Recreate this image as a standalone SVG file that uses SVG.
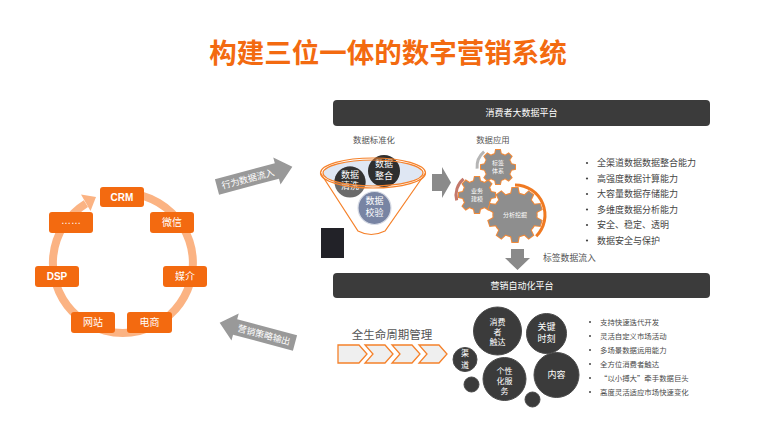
<svg xmlns="http://www.w3.org/2000/svg" xmlns:xlink="http://www.w3.org/1999/xlink" width="780" height="434" viewBox="0 0 780 434">
<style>
  text { font-family: "Noto Sans CJK SC", "Liberation Sans", sans-serif; }
  .lat { font-family: "Liberation Sans", "Noto Sans CJK SC", sans-serif; }
  .box { fill: #f36a10; }
  .boxt { fill: #ffffff; font-size: 10px; text-anchor: middle; }
  .bar { fill: #3b3b3b; }
  .bart { fill: #ffffff; font-size: 9px; text-anchor: middle; }
  .lbl { fill: #555555; font-size: 8.4px; text-anchor: middle; }
  .li1 { fill: #444444; font-size: 9px; }
  .li2 { fill: #4a4a4a; font-size: 7.4px; }
  .dot { fill: #444444; }
  .ct { fill: #ffffff; font-size: 9px; text-anchor: middle; }
  .ct8 { fill: #ffffff; font-size: 8px; text-anchor: middle; }
  .gt { fill: #ffffff; font-size: 6px; text-anchor: middle; }
  .arr { fill: #999999; }
  .arrt { fill: #ffffff; font-size: 9px; text-anchor: middle; }
  .dk { fill: #3b3b3b; stroke: #4a4a4a; stroke-width: 1; }
  .chev { fill: #efefef; stroke: #f5812a; stroke-width: 1.3; }
</style>
<defs>
  <polygon id="tooth8" points="-0.18,-0.72 0.18,-0.72 0.12,-1 -0.12,-1"/>
  <polygon id="tooth10" points="-0.15,-0.74 0.15,-0.74 0.1,-1 -0.1,-1"/>
  <g id="g8">
    <circle r="0.78"/>
    <use href="#tooth8"/><use href="#tooth8" transform="rotate(45)"/><use href="#tooth8" transform="rotate(90)"/><use href="#tooth8" transform="rotate(135)"/>
    <use href="#tooth8" transform="rotate(180)"/><use href="#tooth8" transform="rotate(225)"/><use href="#tooth8" transform="rotate(270)"/><use href="#tooth8" transform="rotate(315)"/>
  </g>
  <g id="g10">
    <circle r="0.8"/>
    <use href="#tooth10"/><use href="#tooth10" transform="rotate(36)"/><use href="#tooth10" transform="rotate(72)"/><use href="#tooth10" transform="rotate(108)"/><use href="#tooth10" transform="rotate(144)"/>
    <use href="#tooth10" transform="rotate(180)"/><use href="#tooth10" transform="rotate(216)"/><use href="#tooth10" transform="rotate(252)"/><use href="#tooth10" transform="rotate(288)"/><use href="#tooth10" transform="rotate(324)"/>
  </g>
  <clipPath id="ellClip"><ellipse cx="373" cy="173" rx="50" ry="13"/></clipPath>
</defs>
<rect width="780" height="434" fill="#ffffff"/>

<text x="388" y="63" text-anchor="middle" font-size="27.5" font-weight="bold" fill="#f36a10">构建三位一体的数字营销系统</text>

<!-- Left cycle ring -->
<g id="cycle">
  <path d="M129.1,193.3 A70,70 0 1 1 85.9,203.6" fill="none" stroke="#fbb383" stroke-width="8"/>
  <polygon points="96,197 81,194.5 90.5,211" fill="#fbb383"/>
</g>
<g id="node-crm"><rect class="box" x="100" y="187" width="44" height="20" rx="3"/><text class="boxt lat" x="122" y="201" font-weight="bold" font-size="9.5">CRM</text></g>
<g id="node-weixin"><rect class="box" x="150" y="212" width="44" height="21" rx="3"/><text class="boxt" x="172" y="226">微信</text></g>
<g id="node-meijie"><rect class="box" x="163" y="266" width="44" height="21" rx="3"/><text class="boxt" x="185" y="280">媒介</text></g>
<g id="node-dianshang"><rect class="box" x="127" y="312" width="45" height="21" rx="3"/><text class="boxt" x="149.5" y="326">电商</text></g>
<g id="node-wangzhan"><rect class="box" x="71" y="312" width="44" height="21" rx="3"/><text class="boxt" x="93" y="326">网站</text></g>
<g id="node-dsp"><rect class="box" x="35" y="266" width="44" height="21" rx="3"/><text class="boxt lat" x="57" y="280" font-weight="bold" font-size="9.5">DSP</text></g>
<g id="node-more"><rect class="box" x="49" y="212" width="44" height="21" rx="3"/><text class="boxt lat" x="71" y="224" font-size="8">……</text></g>

<!-- Connectors -->
<g id="connectors">
  <g transform="translate(217 187) rotate(-15)">
    <path class="arr" d="M0,-8 L62,-8 L62,-14 L78,0 L62,14 L62,8 L0,8 Z"/>
    <text class="arrt" x="32" y="3.5">行为数据流入</text>
  </g>
  <g transform="translate(295 343) rotate(15)">
    <path class="arr" d="M0,-8 L-62,-8 L-62,-14 L-78,0 L-62,14 L-62,8 L0,8 Z"/>
    <text class="arrt" x="-32" y="3.5">营销策略输出</text>
  </g>
  <polygon fill="#8a8a8a" points="432,174 442,174 442,167 451,182.5 442,198 442,191 432,191"/>
  <polygon fill="#8a8a8a" points="511,249 524,249 524,258 530,258 517.5,270 505,258 511,258"/>
  <text x="543" y="261" font-size="8.8" fill="#555555">标签数据流入</text>
</g>

<!-- Top platform -->
<g id="bar-top"><rect class="bar" x="333" y="100" width="377" height="26" rx="4"/><text class="bart" x="521.5" y="116">消费者大数据平台</text></g>
<text class="lbl" x="374" y="143">数据标准化</text>
<text class="lbl" x="493" y="143">数据应用</text>

<!-- Funnel -->
<g id="funnel">
  <ellipse cx="373" cy="173" rx="50" ry="13" fill="#dfe7f3"/>
  <g id="node-qingxi">
    <circle cx="350" cy="182" r="15.5" fill="#6b6b6b"/>
    <circle cx="350" cy="182" r="15.5" fill="#333333" clip-path="url(#ellClip)"/>
    <text class="ct" x="350" y="177.5">数据</text>
    <text class="ct" x="350" y="189">清洗</text>
  </g>
  <g id="node-zhenghe">
    <circle cx="384" cy="171" r="16" fill="#2f2f2f"/>
    <text class="ct" x="384" y="167">数据</text>
    <text class="ct" x="384" y="178.5">整合</text>
  </g>
  <g id="node-jiaoyan">
    <circle cx="374.5" cy="208" r="16.5" fill="#7884a3" stroke="#d8dce6" stroke-width="1.2"/>
    <text class="ct" x="374.5" y="204">数据</text>
    <text class="ct" x="374.5" y="215.5">校验</text>
  </g>
  <ellipse cx="373" cy="173" rx="50" ry="13" fill="none" stroke="#f5812a" stroke-width="1.2"/>
  <ellipse cx="373" cy="173" rx="52.5" ry="15" fill="none" stroke="#f5812a" stroke-width="1.2"/>
  <path d="M320.5,173 L358,231 Q371,238 385,231 L425.5,173" fill="none" stroke="#f5812a" stroke-width="1.2"/>
</g>
<rect x="321" y="228" width="23" height="30" fill="#222228"/>

<!-- Gears -->
<g id="gears">
  <path d="M484.1,151.7 A20,20 0 0 0 477.1,168.7" fill="none" stroke="#b5b5b5" stroke-width="3"/>
  <path d="M463.5,178.9 A21,21 0 0 0 456.7,200.4" fill="none" stroke="#c4786a" stroke-width="3"/>
  <path d="M515,185 A30,30 0 0 1 536.2,236.2" fill="none" stroke="#f07a22" stroke-width="3"/>
  <g id="node-biaoqian">
    <use href="#g8" transform="translate(498 167) scale(17)" fill="#8e8e8e" stroke="#f08a3a" stroke-width="0.12"/>
    <use href="#g8" transform="translate(498 167) scale(17)" fill="#8e8e8e"/>
    <text class="gt" x="498" y="165">标签</text>
    <text class="gt" x="498" y="172.5">体系</text>
  </g>
  <g id="node-yewu">
    <use href="#g8" transform="translate(477 195) scale(18)" fill="#8e8e8e" stroke="#f08a3a" stroke-width="0.12"/>
    <use href="#g8" transform="translate(477 195) scale(18)" fill="#8e8e8e"/>
    <text class="gt" x="477" y="193">业务</text>
    <text class="gt" x="477" y="200.5">建模</text>
  </g>
  <g id="node-fenxi">
    <use href="#g10" transform="translate(515 215) scale(27)" fill="#8e8e8e" stroke="#f08a3a" stroke-width="0.08"/>
    <use href="#g10" transform="translate(515 215) scale(27)" fill="#8e8e8e"/>
    <text class="gt" x="515" y="217">分析挖掘</text>
  </g>
</g>

<!-- Top list -->
<g id="list-top">
  <circle class="dot" cx="587" cy="163" r="1.1"/><text class="li1" x="597" y="166">全渠道数据数据整合能力</text>
  <circle class="dot" cx="587" cy="178.5" r="1.1"/><text class="li1" x="597" y="181.5">高强度数据计算能力</text>
  <circle class="dot" cx="587" cy="194" r="1.1"/><text class="li1" x="597" y="197">大容量数据存储能力</text>
  <circle class="dot" cx="587" cy="209.5" r="1.1"/><text class="li1" x="597" y="212.5">多维度数据分析能力</text>
  <circle class="dot" cx="587" cy="225" r="1.1"/><text class="li1" x="597" y="228">安全、稳定、透明</text>
  <circle class="dot" cx="587" cy="240.5" r="1.1"/><text class="li1" x="597" y="243.5">数据安全与保护</text>
</g>

<!-- Bottom platform -->
<g id="bar-bottom"><rect class="bar" x="333" y="273" width="377" height="25" rx="4"/><text class="bart" x="522" y="289">营销自动化平台</text></g>

<text x="392" y="339" text-anchor="middle" font-size="11.5" fill="#555555">全生命周期管理</text>
<g id="chevrons">
  <polygon class="chev" points="338,345 359,345 367,354 359,363 338,363"/>
  <polygon class="chev" points="365,345 385,345 393,354 385,363 365,363 373,354"/>
  <polygon class="chev" points="392,345 412,345 420,354 412,363 392,363 400,354"/>
  <polygon class="chev" points="419,345 439,345 447,354 439,363 419,363 427,354"/>
</g>

<g id="node-chuda"><circle class="dk" cx="497.5" cy="331" r="24"/>
  <text class="ct8" x="497.5" y="325">消费</text><text class="ct8" x="497.5" y="335">者</text><text class="ct8" x="497.5" y="345">触达</text></g>
<g id="node-guanjian"><circle class="dk" cx="546.5" cy="333.5" r="20"/>
  <text class="ct" x="546.5" y="330">关键</text><text class="ct" x="546.5" y="341.5">时刻</text></g>
<g id="node-qudao"><circle class="dk" cx="465" cy="359.5" r="12"/>
  <text class="ct8" x="465" y="356">渠</text><text class="ct8" x="465" y="367.5">道</text></g>
<g id="node-gexing"><circle class="dk" cx="504.5" cy="379" r="21.5"/>
  <text class="ct8" x="504.5" y="373.5">个性</text><text class="ct8" x="504.5" y="383.5">化服</text><text class="ct8" x="504.5" y="393.5">务</text></g>
<g id="node-neirong"><circle class="dk" cx="556.5" cy="375" r="22.5"/>
  <text class="ct" x="556.5" y="378">内容</text></g>
<circle class="dk" cx="471.5" cy="384.5" r="7.5"/>
<circle class="dk" cx="532.5" cy="399.5" r="7.5"/>

<!-- Bottom list -->
<g id="list-bottom">
  <circle class="dot" cx="590" cy="322" r="1"/><text class="li2" x="600" y="324.5">支持快速迭代开发</text>
  <circle class="dot" cx="590" cy="336" r="1"/><text class="li2" x="600" y="338.5">灵活自定义市场活动</text>
  <circle class="dot" cx="590" cy="350" r="1"/><text class="li2" x="600" y="352.5">多场景数据运用能力</text>
  <circle class="dot" cx="590" cy="364" r="1"/><text class="li2" x="600" y="366.5">全方位消费者触达</text>
  <circle class="dot" cx="590" cy="378" r="1"/><text class="li2" x="600" y="380.5">“以小搏大”牵手数据巨头</text>
  <circle class="dot" cx="590" cy="392" r="1"/><text class="li2" x="600" y="394.5">高度灵活适应市场快速变化</text>
</g>
</svg>
